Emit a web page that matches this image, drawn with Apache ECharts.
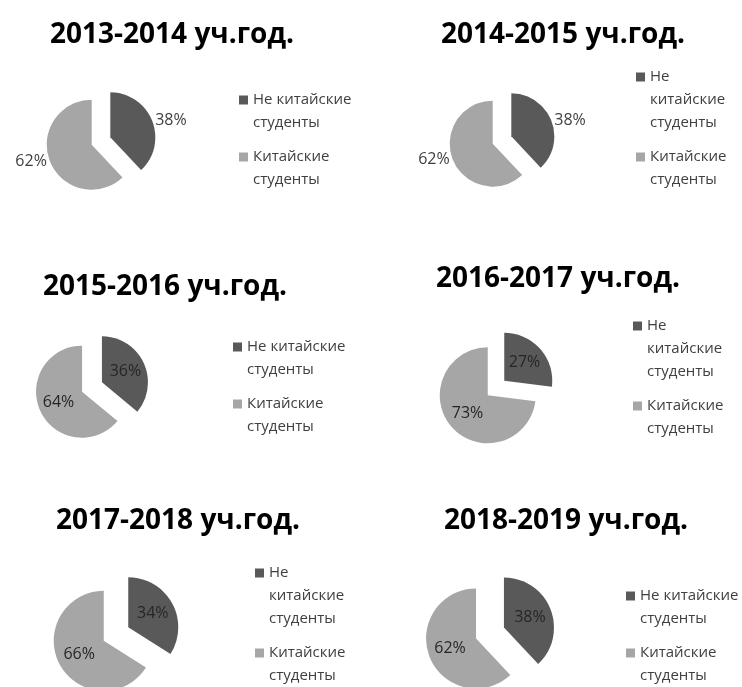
<!DOCTYPE html>
<html>
<head>
<meta charset="utf-8">
<script src="https://cdn.jsdelivr.net/npm/echarts@6/dist/echarts.min.js"></script>
<style>
  html, body { margin: 0; padding: 0; background: #ffffff; }
  #chart { width: 742px; height: 687px; }
</style>
</head>
<body>
<div id="chart"></div>
<script>
// ---- data ----
const titles = ['2013-2014 уч.год.', '2014-2015 уч.год.', '2015-2016 уч.год.',
                '2016-2017 уч.год.', '2017-2018 уч.год.', '2018-2019 уч.год.'];
const categories = ['Не китайские студенты', 'Китайские студенты'];
const nonChinese = [38, 38, 36, 27, 34, 38];
const chinese = [62, 62, 64, 73, 66, 62];

// ---- layout / style (per panel) ----
const panels = [
  { title: [172, 35],  center: [101, 141], r: 45, off: 10, label: 'outside', legend: [239, 100], narrow: false },
  { title: [563, 35],  center: [502, 140], r: 43, off: 10, label: 'outside', legend: [636, 77],  narrow: true  },
  { title: [165, 287], center: [92, 387],  r: 46, off: 11, label: 'inside',  legend: [233, 347], narrow: false },
  { title: [558, 279], center: [496, 388], r: 48, off: 11, label: 'inside',  legend: [633, 326], narrow: true  },
  { title: [178, 521], center: [116, 634], r: 50, off: 14, label: 'inside',  legend: [255, 573], narrow: true  },
  { title: [566, 521], center: [490, 633], r: 50, off: 15, label: 'inside',  legend: [626, 596], narrow: false }
];
const colors = ['#595959', '#a6a6a6'];
const FONT = 'Open Sans';
const LH = 23;
const ICON = 9;

function wrapName(name, narrow) {
  const words = name.split(' ');
  if (narrow) return words;
  if (words.length <= 1) return words;
  return [words.slice(0, -1).join(' '), words[words.length - 1]];
}

const chart = echarts.init(document.getElementById('chart'), null, { renderer: 'canvas' });

const title = [];
const legend = [];
const series = [];

panels.forEach(function (p, i) {
  title.push({
    text: titles[i],
    left: p.title[0],
    top: p.title[1],
    textAlign: 'center',
    textVerticalAlign: 'middle',
    padding: 0,
    textStyle: { fontFamily: FONT, fontWeight: 'bold', fontSize: 28, color: '#000000' }
  });

  const n1 = wrapName(categories[0], p.narrow).length;
  legend.push({
    type: 'plain',
    orient: 'vertical',
    left: p.legend[0],
    top: p.legend[1] - (2 * n1 - 1) * LH / 2,
    height: 400,
    padding: 0,
    itemWidth: ICON,
    itemHeight: ICON,
    itemGap: -12,
    icon: 'rect',
    selectedMode: false,
    data: categories.slice(),
    // blank leading lines keep the marker level with the first text line
    formatter: function (name) {
      const lines = wrapName(name, p.narrow);
      return new Array(lines.length).join('\n') + lines.join('\n');
    },
    textStyle: { fontFamily: FONT, fontSize: 15, lineHeight: LH, color: '#404040' }
  });

  series.push({
    type: 'pie',
    center: p.center,
    radius: p.r,
    startAngle: 90,
    clockwise: true,
    selectedMode: 'multiple',
    selectedOffset: p.off,
    avoidLabelOverlap: false,
    animation: false,
    silent: true,
    emphasis: { disabled: true },
    label: {
      show: true,
      position: p.label,
      formatter: '{c}%',
      fontFamily: FONT,
      fontSize: 16,
      color: p.label === 'inside' ? '#262626' : '#404040',
      distanceToLabelLine: 3
    },
    labelLine: { show: false, length: 0, length2: 0 },
    itemStyle: { borderWidth: 0 },
    select: { itemStyle: { borderWidth: 0 } },
    data: [
      { name: categories[0], value: nonChinese[i], selected: true,
        itemStyle: { color: colors[0] }, select: { itemStyle: { color: colors[0] } } },
      { name: categories[1], value: chinese[i], selected: true,
        itemStyle: { color: colors[1] }, select: { itemStyle: { color: colors[1] } } }
    ]
  });
});

chart.setOption({
  backgroundColor: '#ffffff',
  animation: false,
  title: title,
  legend: legend,
  series: series
});
</script>
</body>
</html>
